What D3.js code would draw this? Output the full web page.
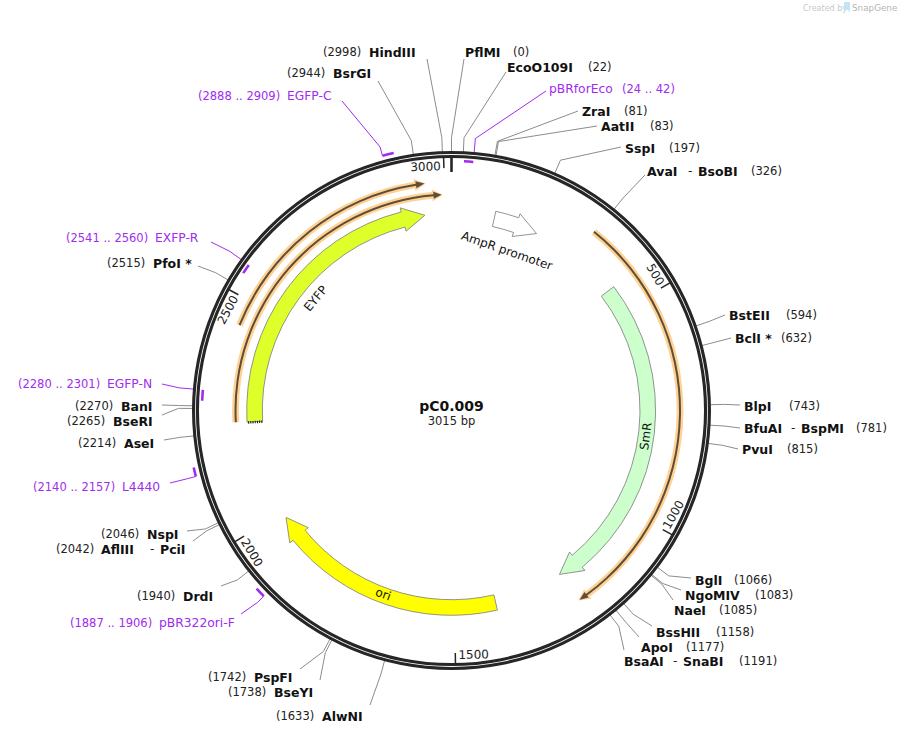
<!DOCTYPE html>
<html>
<head>
<meta charset="utf-8">
<script src="https://cdnjs.cloudflare.com/ajax/libs/d3/7.8.5/d3.min.js"></script>
<style>
  html, body { margin: 0; padding: 0; background: #fff; }
  text { font-family: "DejaVu Sans", sans-serif; }
</style>
</head>
<body>
<div id="chart"></div>
<script>
var plasmidName = 'pC0.009';
var plasmidLength = 3015;

// restriction sites
var siteNames = ['PflMI', 'EcoO109I', 'ZraI', 'AatII', 'SspI', 'AvaI', 'BstEII', 'BclI *', 'BlpI', 'BfuAI', 'PvuI',
    'BglI', 'NgoMIV', 'NaeI', 'BssHII', 'ApoI', 'BsaAI', 'AlwNI', 'BseYI', 'PspFI', 'DrdI', 'AflIII', 'NspI',
    'AseI', 'BseRI', 'BanI', 'PfoI *', 'BsrGI', 'HindIII'];
var sitePositions = [0, 22, 81, 83, 197, 326, 594, 632, 743, 781, 815,
    1066, 1083, 1085, 1158, 1177, 1191, 1633, 1738, 1742, 1940, 2042, 2046,
    2214, 2265, 2270, 2515, 2944, 2998];
// isoschizomers sharing a label
var siteSecondNames = {AvaI: 'BsoBI', BfuAI: 'BspMI', BsaAI: 'SnaBI', AflIII: 'PciI'};

// primers
var primerNames = ['pBRforEco', 'pBR322ori-F', 'L4440', 'EGFP-N', 'EXFP-R', 'EGFP-C'];
var primerStarts = [24, 1887, 2140, 2280, 2541, 2888];
var primerEnds = [42, 1906, 2157, 2301, 2560, 2909];
var primerStrands = [1, -1, -1, 1, 1, -1];

// features, ori runs backwards
var featureNames = ['AmpR promoter', 'SmR', 'ori', 'EYFP'];
var featureStarts = [105, 441, 1399, 2234];
var featureEnds = [215, 1228, 1986, 2950];
var featureLabelAt = [160, 817, 1678, 2592];

// orange annotated strands
var strandStarts = [323, 2445, 2235];
var strandEnds = [1222, 2958, 2993];

var tickValues = [500, 1000, 1500, 2000, 2500, 3000];

// ---- layout, kept away from the data ----
var width = 901, height = 734;
var cx = 451.5, cy = 410.5;
var ringOuter = 259.5, ringInner = 252.5, elbowR = 273;

var featureColors = {'AmpR promoter': '#ffffff', SmR: '#ccffcc', ori: '#ffff00', EYFP: '#dfff2b'};
var featureMidR = {'AmpR promoter': 196.3, SmR: 196.3, ori: 197, EYFP: 197};
var featureLabelR = {'AmpR promoter': 169, SmR: 196, ori: 196, EYFP: 176};
var strandRadius = [228.5, 228.5, 216];
var primerInnerR = 249.5, primerOuterR = 264;

// name x, number x, text centre y, leader end x, leader end y, (second name x)
var siteLabelPos = {
    PflMI: [465, 513, 52, 464, 59], EcoO109I: [507, 588, 67, 506, 72], ZraI: [582, 624, 111, 578, 111],
    AatII: [601, 650, 126, 597, 126], SspI: [625, 669, 148, 621, 147], AvaI: [647, 751, 171, 645, 175, 698],
    BstEII: [729, 786, 315, 725, 315], 'BclI *': [735, 781, 338, 731, 338], BlpI: [744, 789, 406, 740, 405],
    BfuAI: [744, 856, 428, 740, 428, 801], PvuI: [742, 787, 449, 738, 449], BglI: [695, 734, 580, 691, 578],
    NgoMIV: [685, 755, 595, 681, 590], NaeI: [674, 719, 610, 673, 600], BssHII: [656, 716, 632, 652, 626],
    ApoI: [641, 686, 647, 639, 637], BsaAI: [624, 739, 661, 624, 650, 683], AlwNI: [322, 276, 716, 370, 705],
    BseYI: [274, 228, 692, 320, 680], PspFI: [254, 208, 677, 300, 669], DrdI: [183, 137, 596, 221, 586],
    AflIII: [101, 56, 549, 193, 541, 160], NspI: [147, 101, 534, 187, 531], AseI: [124, 78, 443, 164, 440],
    BseRI: [113, 67, 421, 162, 415], BanI: [121, 75, 406, 162, 405], 'PfoI *': [153, 107, 263, 198, 266],
    BsrGI: [333, 287, 73, 378, 81], HindIII: [369, 323, 52, 427, 59]
};
var primerLabelPos = {
    pBRforEco: [549, 622, 89, 546, 91], 'pBR322ori-F': [159, 70, 623, 241, 614], L4440: [122, 33, 487, 170, 483],
    'EGFP-N': [107, 18, 384, 162, 384], 'EXFP-R': [155, 66, 238, 211, 242], 'EGFP-C': [287, 198, 96, 342, 101]
};

var purple = '#a02cf0', leaderGrey = '#8c8c8c', ringColor = '#262626';

var angle = d3.scaleLinear().domain([0, plasmidLength]).range([0, 2 * Math.PI]);

function polar(r, bp) {
    var a = angle(bp);
    return [cx + r * Math.sin(a), cy - r * Math.cos(a)];
}

var svg = d3.select('#chart').append('svg')
    .attr('width', width)
    .attr('height', height)
    .style('display', 'block');

var line = d3.line();

// watermark
var mark = svg.append('g').attr('opacity', 0.55);
mark.append('text').attr('x', 803).attr('y', 11).attr('font-size', 8).attr('fill', '#999').text('Created by');
mark.append('path').attr('d', 'M844 2h6v10l-3-2.500l-3 2.500z').attr('fill', '#8fd0f0');
mark.append('text').attr('x', 852).attr('y', 11).attr('font-size', 8.800).attr('fill', '#777').text('SnapGene');

// leader lines go under the ring
var leaders = svg.append('g').attr('fill', 'none').attr('stroke-width', 1);

siteNames.forEach(function(name, i) {
    var p = siteLabelPos[name];
    leaders.append('path')
        .attr('d', line([[p[3], p[4]], polar(elbowR, sitePositions[i]), polar(ringOuter - 1, sitePositions[i])]))
        .attr('stroke', leaderGrey);
});

// a primer's leader leaves from its 3' end
primerNames.forEach(function(name, i) {
    var p = primerLabelPos[name];
    var forward = primerStrands[i] > 0;
    var at = forward ? primerEnds[i] : primerStarts[i];
    leaders.append('path')
        .attr('d', line([[p[3], p[4]], polar(elbowR, at), polar(forward ? ringOuter - 1 : primerOuterR, at)]))
        .attr('stroke', purple);
});

// backbone
var ring = d3.arc().startAngle(0).endAngle(2 * Math.PI);
svg.append('path').attr('transform', 'translate(' + cx + ',' + cy + ')')
    .attr('d', ring({innerRadius: ringOuter - 3.1, outerRadius: ringOuter}))
    .attr('fill', ringColor);
svg.append('path').attr('transform', 'translate(' + cx + ',' + cy + ')')
    .attr('d', ring({innerRadius: ringInner, outerRadius: ringInner + 3.1}))
    .attr('fill', ringColor);

// primer marks
var primerArc = d3.arc();
primerNames.forEach(function(name, i) {
    var r = primerStrands[i] > 0 ? primerInnerR : primerOuterR;
    svg.append('path').attr('transform', 'translate(' + cx + ',' + cy + ')')
        .attr('d', primerArc({
            innerRadius: r - 1.3,
            outerRadius: r + 1.3,
            startAngle: angle(primerStarts[i]),
            endAngle: angle(primerEnds[i])
        }))
        .attr('fill', purple);
});

// ticks
tickValues.forEach(function(t) {
    var inner = polar(ringInner - 10, t), outer = polar(ringInner + 1, t);
    svg.append('line')
        .attr('x1', inner[0]).attr('y1', inner[1]).attr('x2', outer[0]).attr('y2', outer[1])
        .attr('stroke', ringColor).attr('stroke-width', 1.5);
    var deg = angle(t) * 180 / Math.PI;
    var top = deg < 90 || deg > 270;
    var pos = polar(ringInner - 8, t);
    svg.append('text')
        .attr('transform', 'translate(' + pos[0] + ',' + pos[1] + ') rotate(' + (top ? deg : deg - 180) + ')')
        .attr('x', top ? -3 : 3)
        .attr('text-anchor', top ? 'end' : 'start')
        .attr('dominant-baseline', 'central')
        .attr('font-size', 12)
        .attr('fill', '#222')
        .text(t);
});
// origin tick
var o1 = polar(ringInner - 14, 0), o2 = polar(ringInner + 1, 0);
svg.append('line')
    .attr('x1', o1[0]).attr('y1', o1[1]).attr('x2', o2[0]).attr('y2', o2[1])
    .attr('stroke', ringColor).attr('stroke-width', 2.6);

// arrow outline from tail to tip, tip may be at either end in bp
function arrowPath(r, halfBody, halfHead, tail, tip, headBp) {
    var dir = tip > tail ? 1 : -1;
    var base = tip - dir * headBp;
    var a0 = angle(tail) - Math.PI / 2, a1 = angle(base) - Math.PI / 2;
    var p = d3.path();
    var s = polar(r + halfBody, tail);
    p.moveTo(s[0], s[1]);
    p.arc(cx, cy, r + halfBody, a0, a1, dir < 0);
    var h1 = polar(r + halfHead, base), t = polar(r, tip), h2 = polar(r - halfHead, base);
    p.lineTo(h1[0], h1[1]);
    p.lineTo(t[0], t[1]);
    p.lineTo(h2[0], h2[1]);
    var b2 = polar(r - halfBody, base);
    p.lineTo(b2[0], b2[1]);
    p.arc(cx, cy, r - halfBody, a1, a0, dir > 0);
    p.closePath();
    return p.toString();
}

// orange strands
strandStarts.forEach(function(s, i) {
    var e = strandEnds[i];
    var r = strandRadius[i];
    svg.append('path').attr('d', arrowPath(r, 3.4, 6, s, e + 3, 24)).attr('fill', '#ffd294');
    svg.append('path').attr('d', arrowPath(r, 1, 3.5, s, e, 18)).attr('fill', '#5c4e38');
});

// features
featureNames.forEach(function(name, i) {
    svg.append('path')
        .attr('d', arrowPath(featureMidR[name], 7.8, 12, featureStarts[i], featureEnds[i], 54))
        .attr('fill', featureColors[name])
        .attr('stroke', '#7a7a7a')
        .attr('stroke-width', 0.8);

    var deg = angle(featureLabelAt[i]) * 180 / Math.PI;
    var rot = (deg > 90 && deg < 270) ? deg - 180 : deg;
    var lp = polar(featureLabelR[name], featureLabelAt[i]);
    svg.append('text')
        .attr('transform', 'translate(' + lp[0] + ',' + lp[1] + ') rotate(' + rot + ')')
        .attr('text-anchor', 'middle')
        .attr('dominant-baseline', 'central')
        .attr('font-size', 12)
        .attr('fill', '#111')
        .text(name);
});

// dotted end of EYFP
var e1 = polar(189.5, 2233), e2 = polar(204.5, 2233);
svg.append('line')
    .attr('x1', e1[0]).attr('y1', e1[1]).attr('x2', e2[0]).attr('y2', e2[1])
    .attr('stroke', '#111').attr('stroke-width', 2.5).attr('stroke-dasharray', '1 1.2');

// labels
var labels = svg.append('g');
function addText(x, y, txt, size, weight, color) {
    labels.append('text')
        .attr('x', x).attr('y', y)
        .attr('dominant-baseline', 'central')
        .attr('font-size', size)
        .attr('font-weight', weight)
        .attr('fill', color)
        .text(txt);
}

siteNames.forEach(function(name, i) {
    var p = siteLabelPos[name];
    addText(p[0], p[2], name, 12.5, 'bold', '#111');
    addText(p[1], p[2], '(' + sitePositions[i] + ')', 11.5, 'normal', '#222');
    if (siteSecondNames[name]) {
        addText(p[5] - 10, p[2], '-', 12, 'normal', '#222');
        addText(p[5], p[2], siteSecondNames[name], 12.5, 'bold', '#111');
    }
});

primerNames.forEach(function(name, i) {
    var p = primerLabelPos[name];
    addText(p[0], p[2], name, 12.3, 'normal', purple);
    addText(p[1], p[2], '(' + primerStarts[i] + ' .. ' + primerEnds[i] + ')', 11.5, 'normal', purple);
});

svg.append('text').attr('x', cx).attr('y', 406)
    .attr('text-anchor', 'middle').attr('dominant-baseline', 'central')
    .attr('font-size', 14).attr('font-weight', 'bold').attr('fill', '#111').text(plasmidName);
svg.append('text').attr('x', cx).attr('y', 421)
    .attr('text-anchor', 'middle').attr('dominant-baseline', 'central')
    .attr('font-size', 11.5).attr('fill', '#222').text(plasmidLength + ' bp');
</script>
</body>
</html>
